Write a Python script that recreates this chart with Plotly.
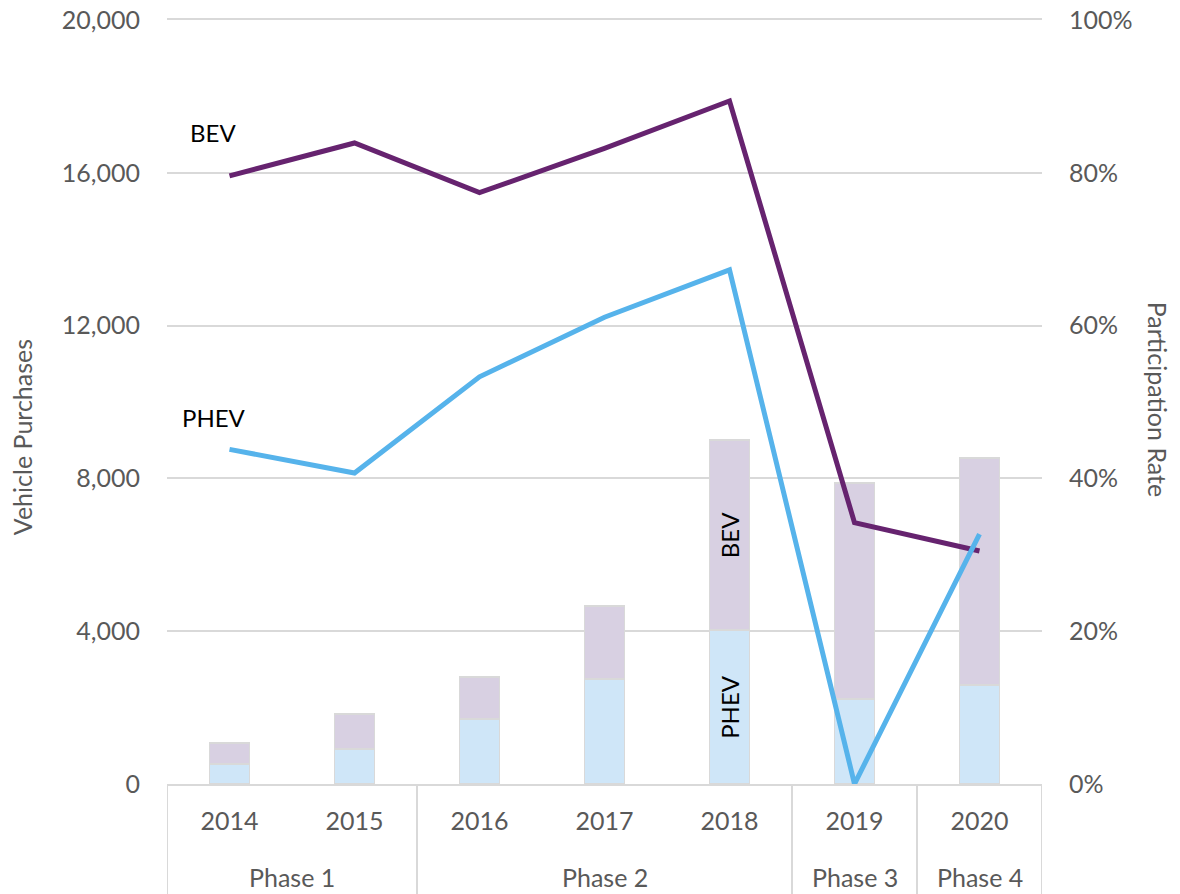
import plotly.graph_objects as go

years = ["2014", "2015", "2016", "2017", "2018", "2019", "2020"]
phase_names = ["Phase 1", "Phase 2", "Phase 3", "Phase 4"]
phase_first = [0, 2, 5, 6]   # index of first year in each phase
phase_last = [1, 4, 5, 6]    # index of last year in each phase
phev_purchases = [524, 916, 1702, 2749, 4031, 2225, 2592]
bev_purchases = [549, 916, 1099, 1911, 4974, 5655, 5942]
bev_rate = [0.796, 0.839, 0.774, 0.832, 0.894, 0.342, 0.305]
phev_rate = [0.438, 0.407, 0.533, 0.611, 0.673, 0.0, 0.327]
bar_labels_phev = ["", "", "", "", "PHEV", "", ""]
bar_labels_bev = ["", "", "", "", "BEV", "", ""]

FONT = "Lato"
GRAY = "#595959"
GRID = "#D9D9D9"

fig = go.Figure()
fig.add_trace(go.Bar(
    x=years, y=phev_purchases, name="PHEV", marker=dict(color="#CFE6F8", line=dict(color=GRID, width=1.5)),
    width=0.32, text=bar_labels_phev, textposition="inside", insidetextanchor="middle",
    textangle=-90, textfont=dict(family=FONT, size=24, color="black"), hoverinfo="skip"))
fig.add_trace(go.Bar(
    x=years, y=bev_purchases, name="BEV", marker=dict(color="#D8D0E2", line=dict(color=GRID, width=1.5)),
    width=0.32, text=bar_labels_bev, textposition="inside", insidetextanchor="middle",
    textangle=-90, textfont=dict(family=FONT, size=24, color="black"), hoverinfo="skip"))
fig.add_trace(go.Scatter(
    x=years, y=bev_rate, yaxis="y2", mode="lines", name="BEV rate",
    line=dict(color="#66236F", width=5)))
fig.add_trace(go.Scatter(
    x=years, y=phev_rate, yaxis="y2", mode="lines", name="PHEV rate",
    line=dict(color="#56B3EB", width=5)))

annotations = [
    dict(text="Vehicle Purchases", xref="paper", yref="paper", x=0, y=0.454, xshift=-145,
         xanchor="center", yanchor="middle",
         textangle=-90, showarrow=False, font=dict(family=FONT, size=25, color=GRAY)),
    dict(text="Participation Rate", xref="paper", yref="paper", x=1, y=0.503, xshift=116,
         xanchor="center", yanchor="middle",
         textangle=90, showarrow=False, font=dict(family=FONT, size=25, color=GRAY)),
    dict(text="BEV", xref="x", yref="y2", x=0, y=0.853, xshift=-17, showarrow=False,
         font=dict(family=FONT, size=24, color="black")),
    dict(text="PHEV", xref="x", yref="y2", x=0, y=0.48, xshift=-16, showarrow=False,
         font=dict(family=FONT, size=24, color="black")),
]
shapes = []
for name, a, b in zip(phase_names, phase_first, phase_last):
    annotations.append(dict(text=name, xref="x", yref="paper", x=(a + b) / 2, y=-0.122,
                            yanchor="middle", showarrow=False,
                            font=dict(family=FONT, size=25, color=GRAY)))
    for edge in (a - 0.5, b + 0.5):
        shapes.append(dict(type="line", xref="x", yref="paper", x0=edge, x1=edge,
                           y0=0, y1=-0.15, line=dict(color=GRID, width=2)))

fig.update_layout(
    width=1180, height=894,
    margin=dict(l=167, r=138, t=20, b=110),
    barmode="stack", showlegend=False,
    plot_bgcolor="white", paper_bgcolor="white",
    font=dict(family=FONT, size=25, color=GRAY),
    xaxis=dict(type="category", showline=True, linecolor=GRID, linewidth=2, mirror=True,
               range=[-0.5, 6.5], automargin=False, ticklabelstandoff=14,
               tickfont=dict(family=FONT, size=25, color=GRAY), showgrid=False),
    yaxis=dict(range=[0, 20000], tickvals=[0, 4000, 8000, 12000, 16000, 20000],
               tickformat=",d", showgrid=True, gridcolor=GRID, gridwidth=1.5,
               zeroline=False, ticklabelstandoff=26, automargin=False,
               ticklabeloverflow="allow",
               tickfont=dict(family=FONT, size=25, color=GRAY)),
    yaxis2=dict(range=[0, 1], overlaying="y", side="right", tickvals=[0, 0.2, 0.4, 0.6, 0.8, 1.0],
                tickformat=".0%", showgrid=False, zeroline=False, ticklabelstandoff=26,
                automargin=False, ticklabeloverflow="allow",
                tickfont=dict(family=FONT, size=25, color=GRAY)),
    annotations=annotations,
    shapes=shapes,
)

fig.write_html("out.html", config={"displayModeBar": False},
               post_script="document.body.style.margin='0px';")
